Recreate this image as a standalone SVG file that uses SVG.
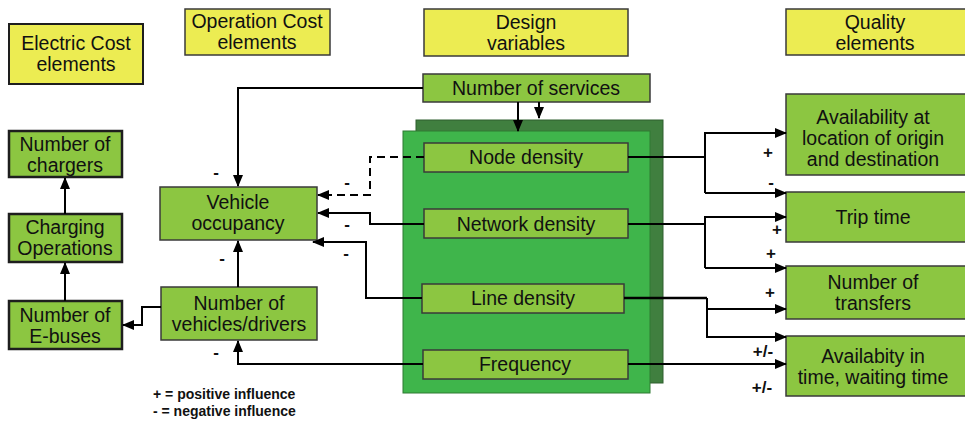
<svg xmlns="http://www.w3.org/2000/svg" width="965" height="421" viewBox="0 0 965 421">
  <defs>
    <marker id="arrow" markerUnits="userSpaceOnUse" markerWidth="12" markerHeight="10" refX="11" refY="5" orient="auto">
      <path d="M0,0 L12,5 L0,10 Z" fill="#000"/>
    </marker>
    <style>
      .box-y { fill: #ecec52; stroke: #3a3a3a; stroke-width: 1.5; }
      .box-g { fill: #8cc641; stroke: #3a3a3a; stroke-width: 1.5; }
      .box-left { fill: #8cc641; stroke: #1e1e1e; stroke-width: 2.5; }
      .panel-back { fill: #407f3f; stroke: #2f5f2f; stroke-width: 1; }
      .panel-front { fill: #3fb54b; stroke: #2f7a33; stroke-width: 1; }
      text { font-family: "Liberation Sans", Arial, sans-serif; fill: #111; }
      .lbl { font-size: 19.5px; text-anchor: middle; }
      .sign { font-size: 17px; font-weight: bold; text-anchor: middle; }
      .legend { font-size: 14px; font-weight: bold; }
      .wire { fill: none; stroke: #000; stroke-width: 2; }
      .dash { stroke-dasharray: 8 5; }
    </style>
  </defs>
  <rect width="965" height="421" fill="#ffffff"/>

  <!-- category headers -->
  <g id="hdr-electric">
    <rect class="box-y" x="9" y="24" width="134" height="60" style="stroke:#1e1e1e;stroke-width:2"/>
    <text class="lbl" x="76" y="50">Electric Cost</text>
    <text class="lbl" x="76" y="71">elements</text>
  </g>
  <g id="hdr-operation">
    <rect class="box-y" x="185" y="9" width="145" height="46"/>
    <text class="lbl" x="257" y="28">Operation Cost</text>
    <text class="lbl" x="257" y="49">elements</text>
  </g>
  <g id="hdr-design">
    <rect class="box-y" x="424" y="9" width="204" height="47"/>
    <text class="lbl" x="526" y="29">Design</text>
    <text class="lbl" x="526" y="50">variables</text>
  </g>
  <g id="hdr-quality">
    <rect class="box-y" x="786" y="9" width="185" height="46"/>
    <text class="lbl" x="875" y="29">Quality</text>
    <text class="lbl" x="875" y="50">elements</text>
  </g>

  <!-- design variable panel -->
  <g id="design-panel">
    <rect class="panel-back" x="416" y="120" width="247" height="263"/>
    <rect class="panel-front" x="403" y="131" width="247" height="262"/>
  </g>

  <g id="n-services">
    <rect class="box-g" x="423" y="74" width="227" height="28"/>
    <text class="lbl" x="536" y="95">Number of services</text>
  </g>
  <g id="n-node">
    <rect class="box-g" x="424" y="143" width="204" height="29"/>
    <text class="lbl" x="526" y="164">Node density</text>
  </g>
  <g id="n-network">
    <rect class="box-g" x="424" y="209" width="204" height="29"/>
    <text class="lbl" x="526" y="231">Network density</text>
  </g>
  <g id="n-line">
    <rect class="box-g" x="422" y="284" width="202" height="29"/>
    <text class="lbl" x="523" y="305">Line density</text>
  </g>
  <g id="n-frequency">
    <rect class="box-g" x="423" y="350" width="205" height="29"/>
    <text class="lbl" x="525" y="371">Frequency</text>
  </g>

  <!-- electric cost chain -->
  <g id="n-chargers">
    <rect class="box-left" x="9" y="131" width="113" height="46"/>
    <text class="lbl" x="65" y="151">Number of</text>
    <text class="lbl" x="65" y="172">chargers</text>
  </g>
  <g id="n-charging">
    <rect class="box-left" x="9" y="214" width="113" height="48"/>
    <text class="lbl" x="65" y="234">Charging</text>
    <text class="lbl" x="65" y="255">Operations</text>
  </g>
  <g id="n-ebuses">
    <rect class="box-left" x="9" y="301" width="113" height="48"/>
    <text class="lbl" x="65" y="322">Number of</text>
    <text class="lbl" x="65" y="343">E-buses</text>
  </g>

  <!-- operation cost -->
  <g id="n-occupancy">
    <rect class="box-g" x="160" y="187" width="157" height="53"/>
    <text class="lbl" x="238" y="209">Vehicle</text>
    <text class="lbl" x="238" y="230">occupancy</text>
  </g>
  <g id="n-vehicles">
    <rect class="box-g" x="161" y="287" width="156" height="53"/>
    <text class="lbl" x="239" y="310">Number of</text>
    <text class="lbl" x="239" y="331">vehicles/drivers</text>
  </g>

  <!-- quality elements -->
  <g id="n-availability">
    <rect class="box-g" x="786" y="94" width="185" height="81"/>
    <text class="lbl" x="873" y="124">Availability at</text>
    <text class="lbl" x="873" y="145">location of origin</text>
    <text class="lbl" x="873" y="166">and destination</text>
  </g>
  <g id="n-trip">
    <rect class="box-g" x="786" y="192" width="185" height="50"/>
    <text class="lbl" x="873" y="224">Trip time</text>
  </g>
  <g id="n-transfers">
    <rect class="box-g" x="786" y="266" width="185" height="53"/>
    <text class="lbl" x="873" y="289">Number of</text>
    <text class="lbl" x="873" y="310">transfers</text>
  </g>
  <g id="n-waiting">
    <rect class="box-g" x="786" y="336" width="185" height="60"/>
    <text class="lbl" x="873" y="363">Availabity in</text>
    <text class="lbl" x="873" y="384">time, waiting time</text>
  </g>

  <!-- connectors -->
  <g id="connectors">
    <path class="wire" d="M423,88 H238 V186" marker-end="url(#arrow)"/>
    <path class="wire" d="M518,102 V131" marker-end="url(#arrow)"/>
    <path class="wire" d="M539,102 V118" marker-end="url(#arrow)"/>

    <path class="wire dash" d="M424,157 H370 V195 H318" marker-end="url(#arrow)"/>
    <path class="wire" d="M424,224 H370 V213 H318" marker-end="url(#arrow)"/>
    <path class="wire" d="M422,298 H366 V242 H313" marker-end="url(#arrow)"/>
    <path class="wire" d="M423,364 H238 V341" marker-end="url(#arrow)"/>
    <path class="wire" d="M238,287 V241" marker-end="url(#arrow)"/>

    <path class="wire" d="M161,307 H142 V325 H123" marker-end="url(#arrow)"/>
    <path class="wire" d="M65,301 V263" marker-end="url(#arrow)"/>
    <path class="wire" d="M65,214 V178" marker-end="url(#arrow)"/>

    <path class="wire" d="M628,157 H705"/>
    <path class="wire" d="M705,193 V133 H786" marker-end="url(#arrow)"/>
    <path class="wire" d="M705,193 H786" marker-end="url(#arrow)"/>

    <path class="wire" d="M628,224 H705"/>
    <path class="wire" d="M705,268 V217 H786" marker-end="url(#arrow)"/>
    <path class="wire" d="M705,268 H786" marker-end="url(#arrow)"/>

    <path class="wire" d="M624,298 H707" style="stroke-width:2.5"/>
    <path class="wire" d="M707,298 V337 H786" marker-end="url(#arrow)"/>
    <path class="wire" d="M707,309 H786" marker-end="url(#arrow)"/>

    <path class="wire" d="M628,364 H786" marker-end="url(#arrow)"/>
  </g>

  <!-- influence signs -->
  <g id="signs">
    <text class="sign" x="216" y="178">-</text>
    <text class="sign" x="347" y="188">-</text>
    <text class="sign" x="347" y="230">-</text>
    <text class="sign" x="346" y="259">-</text>
    <text class="sign" x="222" y="264">-</text>
    <text class="sign" x="216" y="358">-</text>
    <text class="sign" x="768" y="158">+</text>
    <text class="sign" x="771" y="188">-</text>
    <text class="sign" x="777" y="235">+</text>
    <text class="sign" x="771" y="259">+</text>
    <text class="sign" x="770" y="298">+</text>
    <text class="sign" x="763" y="357">+/-</text>
    <text class="sign" x="762" y="393">+/-</text>
  </g>

  <!-- legend -->
  <g id="legend">
    <text class="legend" x="153" y="399">+ = positive influence</text>
    <text class="legend" x="153" y="416">-  = negative influence</text>
  </g>
</svg>
